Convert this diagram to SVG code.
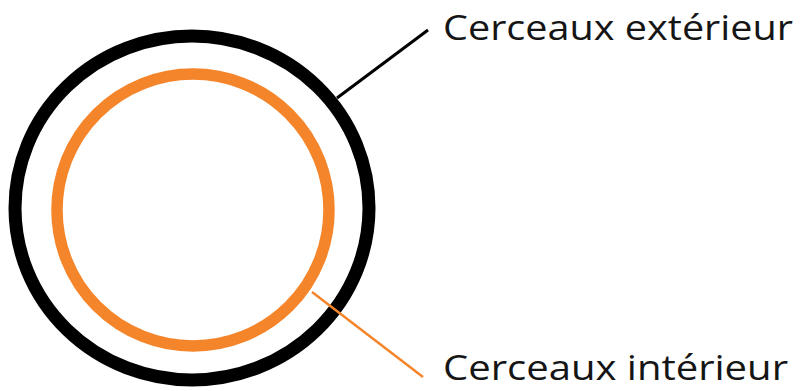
<svg xmlns="http://www.w3.org/2000/svg" width="805" height="391" viewBox="0 0 805 391">
<style>
.lbl{font-family:"Open Sans","DejaVu Sans","Liberation Sans",sans-serif;font-size:35px;fill:#151515}
.outer{fill:none;stroke:#000;stroke-width:13}
.inner{fill:none;stroke:#f5852b;stroke-width:11.5}
</style>
<rect width="805" height="391" fill="#fff"/>
<g id="outer-hoop"><ellipse class="outer" cx="192" cy="208" rx="177" ry="172"/></g>
<g id="inner-hoop"><ellipse class="inner" cx="193" cy="210" rx="136" ry="136"/></g>
<g id="connectors">
<line x1="337" y1="98" x2="428" y2="30" stroke="#000" stroke-width="3"/>
<line x1="312" y1="292" x2="423" y2="377" stroke="#f5852b" stroke-width="2.5"/>
</g>
<g id="label-outer"><text class="lbl" x="443" y="40" textLength="350" lengthAdjust="spacingAndGlyphs">Cerceaux extérieur</text></g>
<g id="label-inner"><text class="lbl" x="443" y="380" textLength="345" lengthAdjust="spacingAndGlyphs">Cerceaux intérieur</text></g>
</svg>
